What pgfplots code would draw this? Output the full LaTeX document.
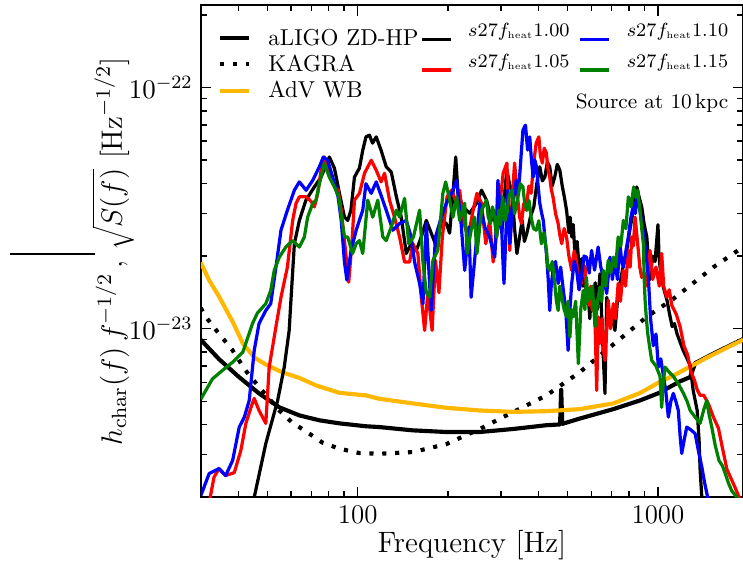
\RequirePackage{fix-cm}
\documentclass[border=0pt]{standalone}
\usepackage{pgfplots}
\pgfplotsset{compat=1.18}
\definecolor{advorange}{RGB}{255,183,0}
\definecolor{mgreen}{RGB}{0,128,0}
\tikzset{
 ligo/.style={black, line width=1.8pt},
 kagra/.style={black, line width=1.8pt, dash pattern=on 1.8pt off 3.8pt},
 adv/.style={advorange, line width=1.8pt},
 mA/.style={black, line width=1.4pt},
 mB/.style={red, line width=1.4pt},
 mC/.style={blue, line width=1.4pt},
 mD/.style={mgreen, line width=1.4pt},
}
\newcommand{\mlab}[1]{\raisebox{3.1pt}{$s27f_{\scriptscriptstyle\mathrm{heat}}#1$}}
\begin{document}
\begin{tikzpicture}
\begin{axis}[
 name=main,
 scale only axis, width=235.65pt, height=213.8pt,
 xmode=log, ymode=log,
 xmin=30, xmax=1920, ymin=2e-24, ymax=2.19e-22,
 xtick={100,1000}, xticklabels={100,1000},
 minor xtick={40,50,60,70,80,90,200,300,400,500,600,700,800,900},
 ytick={1e-23,1e-22},
 minor ytick={2e-24,3e-24,4e-24,5e-24,6e-24,7e-24,8e-24,9e-24,2e-23,3e-23,4e-23,5e-23,6e-23,7e-23,8e-23,9e-23,2e-22},
 tick align=inside, major tick length=4.5pt, minor tick length=2.6pt,
 tick style={black, line width=0.6pt},
 axis line style={line width=0.75pt},
 tick label style={font=\fontsize{11.7}{14}\selectfont},
 xlabel={Frequency [Hz]},
 ylabel={$h_{\mathrm{char}}(f)\,f^{-1/2}\,,\,\sqrt{S(f)}\ [\mathrm{Hz}^{-1/2}]$},
 every axis y label/.style={at={(axis description cs:-0.162,0.5)}, rotate=90, anchor=center, font=\fontsize{12.8}{15}\selectfont},
 every axis x label/.style={at={(axis description cs:0.5,-0.098)}, anchor=center, font=\fontsize{12.8}{15}\selectfont},
 legend cell align=left,
 legend style={at={(axis description cs:0.0319,0.9607)}, anchor=north west, draw=none, fill=none,
   inner sep=0pt, outer sep=0pt, row sep=0pt, column sep=0pt,
   font=\fontsize{10}{12}\selectfont,
   nodes={inner sep=0pt, text height=8pt, text depth=3.5pt},
   /tikz/every odd column/.append style={column sep=7.5pt}},
 legend image code/.code={\draw[#1] (0pt,0pt) -- (12.6pt,0pt);},
 every axis plot/.append style={line join=round},
]
% detector sensitivity curves
\addplot[ligo] coordinates {(30,9.0e-24) (34.5,7.48e-24) (40.3,6.29e-24) (46.9,5.39e-24) (54.8,4.72e-24) (63.9,4.37e-24) (74.5,4.17e-24) (86.9,4.05e-24) (106.5,3.94e-24) (118,3.91e-24) (152,3.79e-24) (197,3.73e-24) (255,3.73e-24) (330,3.84e-24) (425,3.98e-24) (472,4.01e-24) (476,5.58e-24) (480,4.03e-24) (549,4.24e-24) (710,4.64e-24) (871,5.04e-24) (1003,5.40e-24) (1185,6.05e-24) (1280,6.3e-24) (1330,7.2e-24) (1551,7.95e-24) (1920,9.05e-24)};
\addlegendentry{\raisebox{-0.85pt}{aLIGO ZD-HP}}
\addplot[kagra] coordinates {(30,1.22e-23) (30.9,1.135e-23) (34.5,9.53e-24) (38.3,8.13e-24) (42.3,6.71e-24) (46.9,5.73e-24) (54.8,4.58e-24) (60.2,4.10e-24) (69.0,3.67e-24) (76.3,3.37e-24) (86.9,3.18e-24) (101.3,3.05e-24) (118,3.03e-24) (152.6,3.08e-24) (197,3.32e-24) (255,3.84e-24) (330,4.52e-24) (425,5.29e-24) (549,6.6e-24) (710,8.6e-24) (918,1.12e-23) (1125,1.33e-23) (1531,1.80e-23) (1920,2.18e-23)};
\addlegendentry{\raisebox{-0.85pt}{KAGRA}}
\addplot[adv] coordinates {(30,1.88e-23) (32.0,1.586e-23) (34.5,1.36e-23) (38.3,1.07e-23) (41.4,8.7e-24) (45.2,7.6e-24) (49.4,7.1e-24) (55.9,6.6e-24) (63.9,6.25e-24) (72.6,5.82e-24) (86.9,5.42e-24) (106.5,5.29e-24) (118,5.12e-24) (152.6,4.90e-24) (197,4.70e-24) (255,4.58e-24) (330,4.52e-24) (425,4.55e-24) (549,4.64e-24) (710,4.9e-24) (871,5.41e-24) (1003,5.97e-24) (1125,6.39e-24) (1454,7.58e-24) (1920,9.0e-24)};
\addlegendentry{\raisebox{-0.85pt}{AdV WB}}
% model spectra
\addplot[mA, forget plot] coordinates {(45,1.95e-24) (49.4,3.34e-24) (54.1,5.04e-24) (56.9,6.93e-24) (59.1,9.84e-24) (59.9,1.31e-23) (61.5,2.25e-23) (63.9,2.81e-23) (67.2,3.41e-23) (71.7,3.87e-23) (75.5,4.25e-23) (80.4,5.15e-23) (83.6,4.63e-23) (86.9,3.64e-23) (90.3,2.90e-23) (92.6,2.81e-23) (94.9,3.10e-23) (97.5,4.25e-23) (101.3,4.63e-23) (103.9,5.49e-23) (106.5,6.24e-23) (109.4,6.34e-23) (112.0,5.88e-23) (115.2,6.24e-23) (119.6,5.49e-23) (124.4,4.69e-23) (129.3,4.46e-23) (134.5,3.52e-23) (139.6,2.90e-23) (145.1,2.05e-23) (150.7,2.25e-23) (156.7,2.11e-23) (162.8,2.40e-23) (169.2,2.81e-23) (175.7,2.49e-23) (183.1,2.18e-23) (189.9,2.81e-23) (197.3,2.73e-23) (202.3,2.49e-23) (207.6,3.64e-23) (212,5.15e-23) (215.7,3.64e-23) (224.2,3.20e-23) (236,3.01e-23) (248.4,3.31e-23) (258.4,3.75e-23) (268.5,3.41e-23) (279,2.81e-23) (284,3.1e-23) (290,2.40e-23) (293,2.7e-23) (297,2.90e-23) (302,2.5e-23) (308,3.6e-23) (314,4.54e-23) (320,4.0e-23) (327,3.64e-23) (333,2.6e-23) (339,2.05e-23) (346,2.4e-23) (353,2.81e-23) (359,2.3e-23) (366,2.49e-23) (376,2.9e-23) (386,3.20e-23) (395,4.0e-23) (404,4.69e-23) (412,4.1e-23) (420,4.25e-23) (428,4.9e-23) (436,4.69e-23) (444,3.9e-23) (453,4.25e-23) (462,4.8e-23) (471,4.54e-23) (480,3.9e-23) (488,3.5e-23) (496,3.10e-23) (505,2.5e-23) (510,2.9e-23) (516,2.40e-23) (522,2.7e-23) (529,2.05e-23) (538,2.3e-23) (549,1.63e-23) (556,1.95e-23) (563,1.5e-23) (571,1.80e-23) (578,1.3e-23) (585,1.40e-23) (593,1.1e-23) (600,1.45e-23) (609,1.35e-23) (618,1.55e-23) (628,1.2e-23) (641,1.69e-23) (650,1.1e-23) (658,7.5e-24) (666,5.39e-24) (675,1.35e-23) (690,1.15e-23) (708,1.08e-23) (719,9.84e-24) (733,1.3e-23) (747,1.54e-23) (765,1.8e-23) (787,2.11e-23) (803,2.5e-23) (820,2.90e-23) (835,3.4e-23) (850,3.87e-23) (866,3.5e-23) (883,3.20e-23) (900,2.7e-23) (918,2.40e-23) (930,1.9e-23) (941,1.6e-23) (960,2.0e-23) (978,1.9e-23) (1000,2.7e-23) (1008,2.0e-23) (1016,1.8e-23) (1028,1.65e-23) (1040,1.5e-23) (1056,1.4e-23) (1072,1.31e-23) (1093,1.15e-23) (1115,1.02e-23) (1135,1.05e-23) (1158,9.5e-24) (1185,8.8e-24) (1213,8.13e-24) (1245,7.6e-24) (1280,7.04e-24) (1310,5.55e-24) (1351,4.58e-24) (1371,3.44e-24) (1382,2.58e-24) (1400,2.0e-24) (1420,1.8e-24)};
\addplot[mB, forget plot] coordinates {(32.0,1.9e-24) (33.2,2.42e-24) (34.5,2.63e-24) (36.3,2.46e-24) (38.8,2.53e-24) (40.8,3.13e-24) (42.4,4.05e-24) (44.1,4.72e-24) (45.2,5.14e-24) (46.9,4.58e-24) (49.4,4.05e-24) (50.7,6.93e-24) (53.4,1.02e-23) (55.5,1.35e-23) (58.3,1.80e-23) (60.7,2.81e-23) (62.3,3.31e-23) (63.9,3.52e-23) (67.3,3.52e-23) (70.1,3.36e-23) (71.7,3.20e-23) (73.6,3.64e-23) (75.5,4.54e-23) (77.4,5.15e-23) (80.4,4.41e-23) (82.6,4.01e-23) (86.0,3.75e-23) (88.1,3.10e-23) (91.5,1.98e-23) (93.3,1.56e-23) (95.6,2.25e-23) (97.5,3.41e-23) (101.3,3.64e-23) (105.3,4.41e-23) (110.9,4.99e-23) (115.2,4.54e-23) (119.6,4.06e-23) (122.8,4.41e-23) (127.6,3.41e-23) (132.6,2.90e-23) (137.8,2.40e-23) (143.2,1.89e-23) (148.8,1.89e-23) (152.6,2.25e-23) (158.6,2.05e-23) (162.8,1.35e-23) (167.0,9.84e-24) (171.2,1.41e-23) (176.9,9.84e-24) (181.5,1.92e-23) (186.4,1.41e-23) (191.3,2.40e-23) (198.3,3.52e-23) (205.3,3.75e-23) (213.5,3.31e-23) (218.5,3.75e-23) (224.2,2.81e-23) (233.0,2.40e-23) (242.3,3.10e-23) (249.5,3.64e-23) (258.4,3.31e-23) (267,2.25e-23) (275,2.81e-23) (282.5,1.89e-23) (288,2.3e-23) (293,2.81e-23) (299,3.5e-23) (305,4.41e-23) (314,4.86e-23) (318,3.0e-23) (321,2.11e-23) (327,3.5e-23) (333,4.86e-23) (340,3.6e-23) (346,2.9e-23) (351,2.73e-23) (357,3.3e-23) (364,3.10e-23) (371,3.9e-23) (378,3.64e-23) (385,4.8e-23) (393,5.88e-23) (401,6.24e-23) (406,5.2e-23) (412,4.86e-23) (418,5.6e-23) (425,5.34e-23) (430,4.6e-23) (436,4.25e-23) (441,3.8e-23) (447,3.52e-23) (456,3.0e-23) (465,2.73e-23) (471,2.45e-23) (478,2.25e-23) (487,2.6e-23) (496,2.40e-23) (505,2.0e-23) (516,1.745e-23) (526,2.1e-23) (536,1.89e-23) (546,1.45e-23) (556,1.56e-23) (563,1.85e-23) (571,1.80e-23) (580,1.4e-23) (590,1.25e-23) (597,1.5e-23) (604,1.19e-23) (615,1.3e-23) (625,5.55e-24) (633,1.12e-23) (641,8.69e-24) (652,1.1e-23) (660,8.0e-24) (666,7.39e-24) (675,1.0e-23) (683,1.31e-23) (695,1.0e-23) (710,1.27e-23) (722,1.1e-23) (737,1.54e-23) (750,1.3e-23) (766,1.745e-23) (780,1.5e-23) (797,2.11e-23) (808,1.8e-23) (818,2.40e-23) (828,2.2e-23) (839,2.90e-23) (849,2.5e-23) (860,2.11e-23) (870,1.8e-23) (883,1.63e-23) (900,1.7e-23) (920,1.5e-23) (941,2.11e-23) (960,1.6e-23) (985,1.8e-23) (1010,1.5e-23) (1029,2.05e-23) (1045,1.5e-23) (1070,1.35e-23) (1090,1.45e-23) (1112,1.25e-23) (1150,1.15e-23) (1185,1.02e-23) (1220,8.5e-24) (1255,7.8e-24) (1290,6.6e-24) (1324,6.10e-24) (1350,5.6e-24) (1382,5.29e-24) (1420,5.3e-24) (1471,4.90e-24) (1530,4.3e-24) (1590,3.87e-24) (1640,3.2e-24) (1697,2.61e-24) (1750,2.4e-24) (1808,2.19e-24) (1879,1.95e-24)};
\addplot[mC, forget plot] coordinates {(30.0,2.03e-24) (32.0,2.51e-24) (34.5,2.63e-24) (36.3,2.46e-24) (38.3,2.84e-24) (40.3,3.91e-24) (41.9,4.30e-24) (43.5,5.04e-24) (45.2,8.13e-24) (46.9,1.05e-23) (49.4,1.19e-23) (51.3,1.27e-23) (53.4,1.80e-23) (55.5,2.56e-23) (58.3,3.10e-23) (61.5,3.75e-23) (63.9,4.06e-23) (67.3,3.75e-23) (70.8,4.12e-23) (74.5,4.69e-23) (76.8,5.15e-23) (79.4,4.99e-23) (82.5,4.25e-23) (86.0,3.52e-23) (88.1,2.81e-23) (90.3,1.89e-23) (92.0,1.59e-23) (95.0,2.11e-23) (98.8,2.56e-23) (103.9,3.10e-23) (106.5,3.99e-23) (110.9,3.64e-23) (115.2,4.06e-23) (119.6,3.57e-23) (124.4,3.10e-23) (130.9,2.56e-23) (137.8,2.73e-23) (145.1,2.81e-23) (150.7,2.40e-23) (154.6,1.89e-23) (160.7,1.54e-23) (164.9,1.27e-23) (169.2,2.73e-23) (173.5,1.54e-23) (175.7,1.19e-23) (181.5,2.40e-23) (189.9,2.90e-23) (197.3,3.31e-23) (205.3,3.64e-23) (213.5,4.12e-23) (220.5,2.81e-23) (227.1,1.745e-23) (234.6,2.64e-23) (238.6,1.35e-23) (246.8,2.11e-23) (255,3.31e-23) (265,2.64e-23) (275,2.40e-23) (286,1.98e-23) (290,2.8e-23) (293,4.12e-23) (297,3.3e-23) (301,2.81e-23) (304,2.0e-23) (307,1.54e-23) (312,2.6e-23) (316,3.75e-23) (319,3.0e-23) (321,2.25e-23) (328,3.2e-23) (337,4.12e-23) (341,3.6e-23) (346,4.25e-23) (350,5.2e-23) (355,6.65e-23) (362,6.98e-23) (368,5.5e-23) (374,6.24e-23) (379,5.0e-23) (384,4.25e-23) (389,5.0e-23) (394,4.69e-23) (399,3.9e-23) (404,3.31e-23) (410,3.0e-23) (415,2.81e-23) (420,2.4e-23) (425,2.05e-23) (431,1.6e-23) (436,1.19e-23) (441,1.5e-23) (447,1.745e-23) (456,1.9e-23) (465,1.54e-23) (474,1.8e-23) (484,1.44e-23) (493,1.2e-23) (502,8.13e-24) (509,1.2e-23) (516,1.54e-23) (526,1.9e-23) (536,1.745e-23) (546,1.45e-23) (556,1.63e-23) (567,2.0e-23) (578,1.98e-23) (590,1.7e-23) (601,2.11e-23) (615,1.75e-23) (632,2.18e-23) (645,1.8e-23) (658,1.63e-23) (675,1.4e-23) (692,1.98e-23) (705,1.6e-23) (719,1.92e-23) (733,1.6e-23) (747,2.25e-23) (757,1.9e-23) (767,1.80e-23) (782,2.1e-23) (797,2.40e-23) (813,2.9e-23) (830,3.31e-23) (841,3.0e-23) (852,3.64e-23) (861,3.3e-23) (871,3.10e-23) (885,2.7e-23) (899,2.40e-23) (914,2.0e-23) (929,1.63e-23) (945,1.1e-23) (965,8.5e-24) (985,9.5e-24) (1003,6.93e-24) (1022,7.5e-24) (1042,6.41e-24) (1062,5.5e-24) (1083,4.30e-24) (1104,5.0e-24) (1125,5.39e-24) (1147,5.0e-24) (1169,4.58e-24) (1185,3.6e-24) (1200,3.04e-24) (1225,3.5e-24) (1247,3.91e-24) (1290,3.8e-24) (1330,3.67e-24) (1365,3.1e-24) (1400,2.67e-24) (1430,2.3e-24) (1454,2.08e-24) (1480,1.9e-24)};
\addplot[mD, forget plot] coordinates {(30,5.1e-24) (32.8,6.19e-24) (35.4,6.71e-24) (38.3,7.26e-24) (41.4,7.99e-24) (43.5,9.57e-24) (44.6,1.05e-23) (46.3,1.16e-23) (49.4,1.27e-23) (51.3,1.44e-23) (52.7,1.745e-23) (54.8,1.98e-23) (57.6,2.18e-23) (60.7,2.32e-23) (63.9,2.18e-23) (66.4,2.40e-23) (68.1,2.90e-23) (70.8,3.31e-23) (72.6,3.41e-23) (74.5,3.99e-23) (77.4,4.84e-23) (80.4,4.25e-23) (83.6,3.87e-23) (86.4,3.52e-23) (88.6,2.81e-23) (90.3,2.40e-23) (92.6,2.40e-23) (96.1,2.05e-23) (98.8,2.25e-23) (101.3,2.32e-23) (103.9,2.05e-23) (108.0,3.41e-23) (112.2,2.90e-23) (116.6,3.41e-23) (121.2,2.40e-23) (124.4,2.32e-23) (129.3,2.64e-23) (134.5,3.10e-23) (137.8,2.90e-23) (143.2,3.47e-23) (147.9,2.25e-23) (153.3,2.40e-23) (160.7,3.10e-23) (164.9,1.89e-23) (169.2,1.41e-23) (173.5,1.35e-23) (178.0,1.92e-23) (184.8,2.11e-23) (192.1,3.64e-23) (196.3,4.06e-23) (201.3,3.52e-23) (207.6,2.90e-23) (213.5,3.52e-23) (218.5,2.81e-23) (227.1,3.31e-23) (231.5,2.05e-23) (238.6,2.56e-23) (245,2.90e-23) (249.5,2.05e-23) (258.4,3.10e-23) (268.5,3.41e-23) (272,2.9e-23) (276.7,2.73e-23) (281,3.2e-23) (286,2.90e-23) (290,2.4e-23) (295,3.10e-23) (299,2.7e-23) (303.7,3.52e-23) (309,2.8e-23) (314,3.01e-23) (320,3.6e-23) (327,3.75e-23) (333,3.0e-23) (340,3.4e-23) (348,3.99e-23) (355,3.87e-23) (360,3.3e-23) (366,3.10e-23) (372,3.4e-23) (378,2.90e-23) (385,2.6e-23) (393,2.56e-23) (401,2.8e-23) (409,2.25e-23) (417,2.5e-23) (425,2.11e-23) (430,1.8e-23) (436,1.745e-23) (445,1.9e-23) (453,1.54e-23) (459,1.3e-23) (465,1.19e-23) (471,1.5e-23) (478,1.35e-23) (487,1.2e-23) (496,1.12e-23) (502,1.3e-23) (509,9.22e-24) (515,1.2e-23) (522,1.12e-23) (532,1.3e-23) (543,7.16e-24) (553,1.2e-23) (564,1.44e-23) (571,1.2e-23) (578,1.63e-23) (585,1.3e-23) (593,1.35e-23) (605,1.5e-23) (617,1.02e-23) (629,1.3e-23) (641,1.49e-23) (650,1.3e-23) (658,1.745e-23) (670,1.5e-23) (683,1.92e-23) (696,1.7e-23) (710,1.98e-23) (723,1.8e-23) (737,2.40e-23) (752,2.2e-23) (767,2.81e-23) (782,2.6e-23) (797,3.52e-23) (813,3.2e-23) (830,3.87e-23) (844,3.5e-23) (857,3.75e-23) (864,3.4e-23) (871,3.10e-23) (883,2.6e-23) (894,2.25e-23) (900,1.6e-23) (906,1.31e-23) (915,1.1e-23) (925,9.5e-24) (938,8.4e-24) (953,7.39e-24) (985,7.0e-24) (1016,6.35e-24) (1029,4.72e-24) (1042,6.0e-24) (1056,6.93e-24) (1090,6.6e-24) (1125,6.35e-24) (1170,5.9e-24) (1216,5.39e-24) (1250,5.0e-24) (1280,4.58e-24) (1330,4.3e-24) (1382,4.05e-24) (1420,4.6e-24) (1454,5.04e-24) (1480,4.4e-24) (1511,3.91e-24) (1550,3.3e-24) (1597,2.84e-24) (1640,2.7e-24) (1675,2.51e-24) (1715,2.3e-24) (1760,2.13e-24) (1830,2.0e-24) (1879,1.9e-24)};
\node[anchor=base east, font=\fontsize{9}{11}\selectfont] at (axis description cs:0.988,0.791) {Source at 10\,kpc};
\end{axis}
% second (hidden) axis carrying the legend of the model spectra
\begin{axis}[
 at={(main.south west)}, anchor=south west,
 scale only axis, width=235.65pt, height=213.8pt,
 hide axis, xmin=0, xmax=1, ymin=0, ymax=1,
 legend columns=2,
 legend cell align=left,
 legend style={at={(axis description cs:0.4046,0.962)}, anchor=north west, draw=none, fill=none,
   inner sep=0pt, outer sep=0pt, row sep=0pt, column sep=0pt,
   font=\fontsize{8.3}{10}\selectfont,
   nodes={inner sep=0pt, text height=8.5pt, text depth=4.85pt},
   /tikz/every odd column/.append style={column sep=6.9pt},
   /tikz/every even column/.append style={column sep=4pt}},
 legend image code/.code={\draw[#1] (0pt,0pt) -- (12.6pt,0pt);},
]
\addlegendimage{mA}\addlegendentry{\mlab{1.00}}
\addlegendimage{mC}\addlegendentry{\mlab{1.10}}
\addlegendimage{mB}\addlegendentry{\mlab{1.05}}
\addlegendimage{mD}\addlegendentry{\mlab{1.15}}
\end{axis}
\draw[line width=0.8pt] ([xshift=-82.9pt,yshift=105.7pt]main.south west) -- ++(36.9pt,0pt);
\pgfresetboundingbox
\path[use as bounding box] ([xshift=-87.26pt,yshift=-28.7pt]main.south west) rectangle ([yshift=2.3pt]main.north east);
\end{tikzpicture}
\end{document}
